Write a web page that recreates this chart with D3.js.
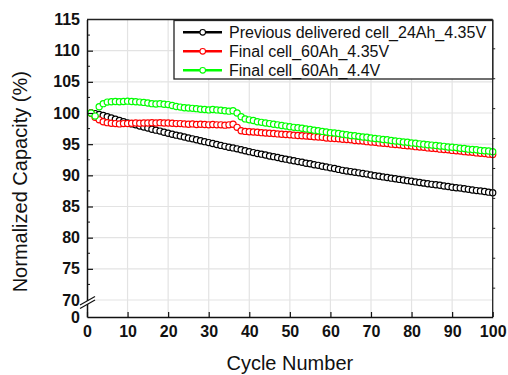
<!DOCTYPE html>
<html>
<head>
<meta charset="utf-8">
<script src="https://cdn.jsdelivr.net/npm/d3@7"></script>
<style>
  html, body { margin: 0; padding: 0; background: #fff; }
  svg { display: block; }
  text { font-family: "Liberation Sans", Arial, sans-serif; }
</style>
</head>
<body>
<svg id="chart" width="508" height="375"></svg>
<script>
// ---------- data ----------
const cycles = [1,2,3,4,5,6,7,8,9,10,11,12,13,14,15,16,17,18,19,20,
  21,22,23,24,25,26,27,28,29,30,31,32,33,34,35,36,37,38,39,40,
  41,42,43,44,45,46,47,48,49,50,51,52,53,54,55,56,57,58,59,60,
  61,62,63,64,65,66,67,68,69,70,71,72,73,74,75,76,77,78,79,80,
  81,82,83,84,85,86,87,88,89,90,91,92,93,94,95,96,97,98,99,100];

const prev24Ah = [100.0,99.9,99.75,99.6,99.4,99.2,99.0,98.8,98.6,98.4,
  98.25,98.1,97.9,97.75,97.6,97.4,97.25,97.1,96.9,96.75,
  96.6,96.45,96.3,96.15,96.0,95.85,95.7,95.55,95.4,95.25,
  95.1,94.95,94.8,94.65,94.5,94.4,94.25,94.1,93.95,93.8,
  93.65,93.5,93.4,93.25,93.1,93.0,92.85,92.7,92.6,92.45,
  92.35,92.2,92.1,91.95,91.85,91.7,91.6,91.45,91.35,91.2,
  91.1,90.95,90.8,90.7,90.6,90.5,90.4,90.3,90.2,90.05,
  89.95,89.85,89.75,89.65,89.55,89.45,89.35,89.25,89.15,89.05,
  88.95,88.85,88.75,88.65,88.55,88.5,88.4,88.3,88.2,88.1,
  88.0,87.95,87.85,87.75,87.65,87.55,87.5,87.4,87.3,87.2];

const final60Ah435 = [100.0,99.3,98.9,98.6,98.45,98.35,98.3,98.25,98.3,98.3,
  98.35,98.4,98.35,98.4,98.4,98.45,98.4,98.45,98.4,98.4,
  98.35,98.3,98.3,98.25,98.2,98.25,98.15,98.2,98.15,98.1,
  98.15,98.1,98.1,98.05,98.1,98.2,97.7,97.15,97.05,97.0,
  96.95,96.9,96.85,96.8,96.75,96.7,96.65,96.6,96.55,96.5,
  96.45,96.4,96.35,96.3,96.25,96.2,96.15,96.1,96.0,95.95,
  95.9,95.85,95.8,95.75,95.7,95.6,95.55,95.5,95.4,95.35,
  95.3,95.2,95.15,95.1,95.0,94.95,94.9,94.8,94.75,94.7,
  94.6,94.55,94.5,94.4,94.35,94.3,94.2,94.15,94.1,94.0,
  93.95,93.9,93.8,93.75,93.7,93.6,93.55,93.5,93.4,93.35];

const final60Ah44 = [100.0,99.5,101.0,101.5,101.75,101.8,101.85,101.8,101.85,101.9,
  101.85,101.8,101.75,101.7,101.6,101.5,101.45,101.5,101.4,101.35,
  101.2,101.05,100.95,100.85,100.8,100.75,100.7,100.6,100.55,100.5,
  100.55,100.5,100.45,100.35,100.3,100.35,100.0,99.4,99.05,98.9,
  98.8,98.6,98.5,98.4,98.3,98.2,98.1,98.0,97.9,97.8,
  97.7,97.65,97.55,97.45,97.35,97.25,97.15,97.05,96.95,96.85,
  96.8,96.7,96.6,96.5,96.4,96.35,96.25,96.15,96.1,96.0,
  95.9,95.85,95.75,95.7,95.6,95.5,95.45,95.35,95.3,95.2,
  95.15,95.05,95.0,94.9,94.85,94.8,94.7,94.65,94.55,94.5,
  94.45,94.35,94.3,94.2,94.15,94.1,94.0,93.95,93.9,93.8];

const seriesNames = ["Previous delivered cell_24Ah_4.35V", "Final cell_60Ah_4.35V", "Final cell_60Ah_4.4V"];
const seriesColors = ["#000000", "#ff0000", "#00ff00"];

const xTicks = [0,10,20,30,40,50,60,70,80,90,100];
const yTicks = [0,70,75,80,85,90,95,100,105,110,115];
const yMinorTicks = [72.5,77.5,82.5,87.5,92.5,97.5,102.5,107.5,112.5];
const yRightTicks = [71.9,76.7,81.5,86.3,91.1,95.9,100.7,105.5,110.3];

const xTitle = "Cycle Number";
const yTitle = "Normalized Capacity (%)";

// ---------- layout ----------
const svg = d3.select("#chart");
const L = 87, R = 492.7, T = 19.5, B = 317;

const x = d3.scaleLinear().domain([0, 100]).range([L, R]);
// broken axis: 0 -> 70 compressed
const y = d3.scaleLinear().domain([0, 70, 115]).range([B, 300, T]);

// grid
const grid = svg.append("g");
grid.selectAll("line.vg").data(xTicks.slice(1, -1)).join("line")
  .attr("x1", d => x(d)).attr("x2", d => x(d)).attr("y1", T).attr("y2", B)
  .attr("stroke", "#e3e3e3").attr("stroke-width", 1.2);
grid.selectAll("line.hg").data(yTicks.slice(1, -1)).join("line")
  .attr("x1", L).attr("x2", R).attr("y1", d => y(d)).attr("y2", d => y(d))
  .attr("stroke", "#e3e3e3").attr("stroke-width", 1.2);

// series
const allSeries = [prev24Ah, final60Ah435, final60Ah44];
allSeries.forEach((vals, i) => {
  svg.append("g").selectAll("circle").data(vals).join("circle")
    .attr("cx", (d, j) => x(cycles[j]))
    .attr("cy", d => y(d))
    .attr("r", 3.1)
    .attr("fill", "#fff")
    .attr("stroke", seriesColors[i])
    .attr("stroke-width", 1.2);
});

// frame top / right
svg.append("line").attr("x1", L).attr("x2", R).attr("y1", T).attr("y2", T)
  .attr("stroke", "#222").attr("stroke-width", 1.3);
svg.append("line").attr("x1", R).attr("x2", R).attr("y1", T).attr("y2", B)
  .attr("stroke", "#222").attr("stroke-width", 1.3);
svg.append("g").selectAll("line").data(yRightTicks).join("line")
  .attr("x1", R).attr("x2", R + 2.5).attr("y1", d => y(d)).attr("y2", d => y(d))
  .attr("stroke", "#222").attr("stroke-width", 1);

// axes
const tickFont = g => g.selectAll("text")
  .attr("font-family", "'Liberation Sans', Arial, sans-serif")
  .attr("font-weight", "bold").attr("font-size", 16).attr("fill", "#111");

const xAxis = svg.append("g").attr("transform", `translate(0,${B})`)
  .call(d3.axisBottom(x).tickValues(xTicks).tickFormat(d3.format("d"))
    .tickSizeInner(-5).tickSizeOuter(0).tickPadding(9));
xAxis.select(".domain").attr("stroke", "#111").attr("stroke-width", 1.5);
xAxis.selectAll(".tick line").attr("stroke", "#111").attr("stroke-width", 1.2);
xAxis.call(tickFont);

const yAxis = svg.append("g").attr("transform", `translate(${L},0)`)
  .call(d3.axisLeft(y).tickValues(yTicks).tickFormat(d3.format("d"))
    .tickSizeInner(-6).tickSizeOuter(0).tickPadding(7));
yAxis.select(".domain").attr("stroke", "#111").attr("stroke-width", 1.5);
yAxis.selectAll(".tick line").attr("stroke", "#111").attr("stroke-width", 1.2);
yAxis.call(tickFont);
yAxis.selectAll(".tick").filter(d => d === 0 || d === 115 || d === 70)
  .select("line").attr("stroke-opacity", d => d === 70 ? 1 : 0);

svg.append("g").selectAll("line").data(yMinorTicks).join("line")
  .attr("x1", L).attr("x2", L + 3).attr("y1", d => y(d)).attr("y2", d => y(d))
  .attr("stroke", "#111").attr("stroke-width", 1);

// axis break marks
svg.append("polygon")
  .attr("points", "80,305 95,296.5 95,300 80,308.5")
  .attr("fill", "#fff");
svg.append("line").attr("x1", 80).attr("y1", 305).attr("x2", 95).attr("y2", 296.5)
  .attr("stroke", "#111").attr("stroke-width", 1.2);
svg.append("line").attr("x1", 80).attr("y1", 308.5).attr("x2", 95).attr("y2", 300)
  .attr("stroke", "#111").attr("stroke-width", 1.2);

// titles
svg.append("text").attr("x", (L + R) / 2).attr("y", 370)
  .attr("text-anchor", "middle").attr("font-size", 20).attr("fill", "#111")
  .text(xTitle);
svg.append("text")
  .attr("transform", `translate(27,${(T + 300) / 2 + 22}) rotate(-90)`)
  .attr("text-anchor", "middle").attr("font-size", 20).attr("fill", "#111")
  .text(yTitle);

// legend
const lg = svg.append("g");
lg.append("rect").attr("x", 174).attr("y", 20.5).attr("width", R - 174).attr("height", 58.5)
  .attr("fill", "#fff").attr("stroke", "#222").attr("stroke-width", 1.3);
seriesNames.forEach((name, i) => {
  const cy = 32.3 + i * 19;
  lg.append("line").attr("x1", 183).attr("x2", 222).attr("y1", cy).attr("y2", cy)
    .attr("stroke", seriesColors[i]).attr("stroke-width", 2.6);
  lg.append("circle").attr("cx", 202.7).attr("cy", cy).attr("r", 2.8)
    .attr("fill", "#fff").attr("stroke", seriesColors[i]).attr("stroke-width", 1.1);
  lg.append("text").attr("x", 229).attr("y", cy + 5.6)
    .attr("font-size", 16).attr("fill", "#111").text(name);
});
</script>
</body>
</html>
